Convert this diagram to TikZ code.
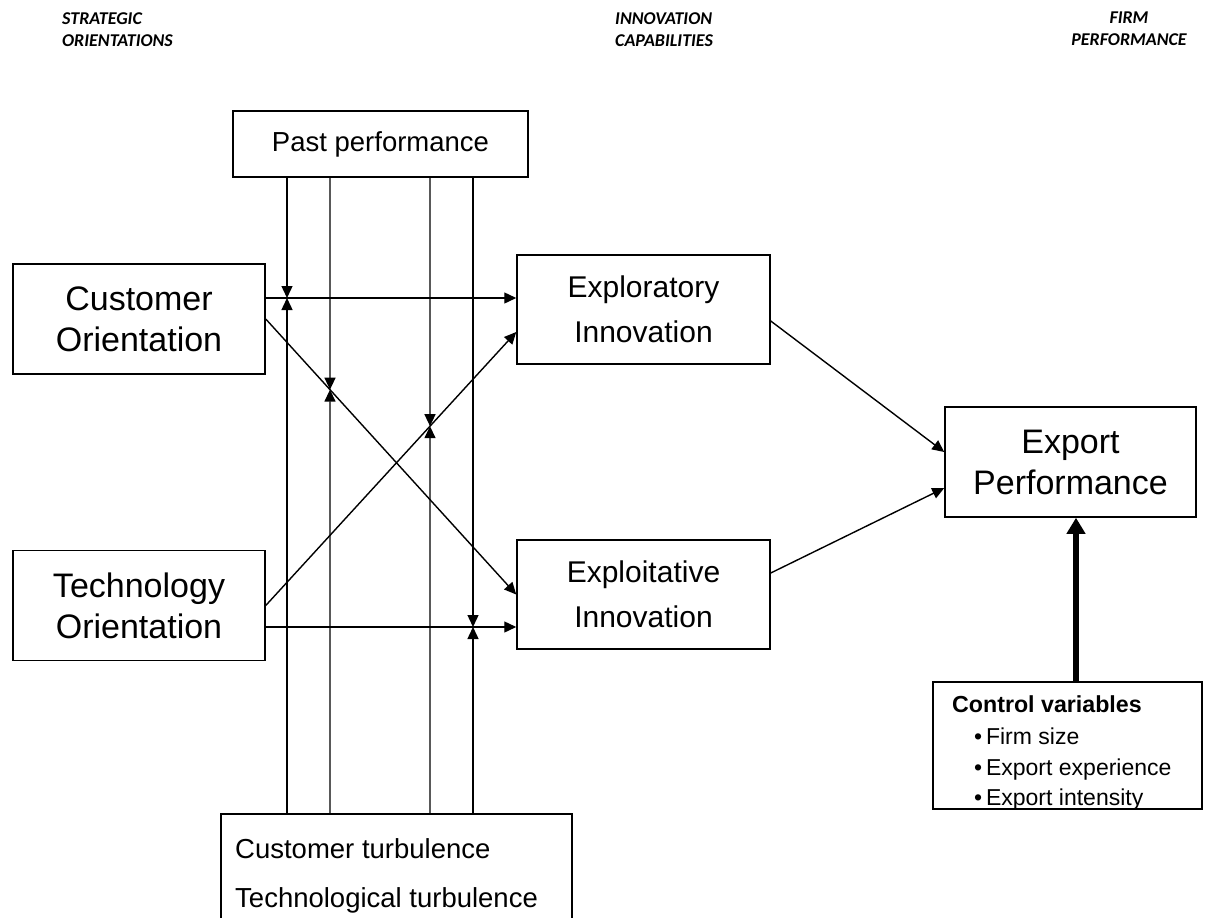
\documentclass[tikz,border=0pt]{standalone}
\usepackage{fontspec}
\setmainfont{Liberation Sans}
\newfontfamily\hdrfont{Carlito}
\usetikzlibrary{arrows.meta,intersections}

\begin{document}
\begin{tikzpicture}[x=1pt,y=-1pt,
  box/.style={draw,line width=1.5pt,inner sep=0pt,align=center},
  bigtxt/.style={font=\fontsize{34}{41}\selectfont},
  midtxt/.style={font=\fontsize{30}{45}\selectfont},
  smalltxt/.style={font=\fontsize{27.5}{33}\selectfont},
  listtxt/.style={font=\fontsize{23}{31}\selectfont},
  link/.style={line width=1.4pt,-{Triangle[length=12pt,width=11pt]}},
  heavy/.style={line width=5.5pt,-{Triangle[length=16pt,width=18pt]}},
  hdr/.style={font=\hdrfont\bfseries\itshape\fontsize{18}{22}\selectfont,inner sep=0pt},
]
\useasboundingbox (0,0) rectangle (1216,918);

% column headings
\node[hdr,align=left,anchor=north west] (h1) at (62,12) {STRATEGIC\\ORIENTATIONS};
\node[hdr,align=left,anchor=north west] (h2) at (615,12) {INNOVATION\\CAPABILITIES};
\node[hdr,align=center,anchor=north] (h3) at (1129,12) {FIRM\\PERFORMANCE};

% boxes
\node[box,smalltxt,minimum width=295pt,minimum height=66pt] (pastp) at (380.5,144) {Past performance};
\node[box,bigtxt,minimum width=252pt,minimum height=110pt] (custo) at (139,319) {Customer\\Orientation};
\node[box,bigtxt,minimum width=252pt,minimum height=110pt] (techo) at (139,605.5) {Technology\\Orientation};
\node[box,midtxt,minimum width=253pt,minimum height=109pt] (explor) at (643.5,309.5) {Exploratory\\Innovation};
\node[box,midtxt,minimum width=253pt,minimum height=109pt] (exploi) at (643.5,594.5) {Exploitative\\Innovation};
\node[box,bigtxt,minimum width=251pt,minimum height=110pt] (expperf) at (1070.5,462) {Export\\Performance};
\node[box,minimum width=269pt,minimum height=127pt] (ctrl) at (1067.5,745.5) {};
\node[box,minimum width=351pt,minimum height=135pt,anchor=north west] (turb) at (220,813) {};

% box contents set flush left
\node[anchor=base west,inner sep=0pt,font=\bfseries\fontsize{23.2}{31}\selectfont] (ctrl0) at (952,712) {Control variables};
\node[anchor=base west,inner sep=0pt,listtxt] (ctrl1) at (974,744) {\textbullet\,Firm size};
\node[anchor=base west,inner sep=0pt,listtxt] (ctrl2) at (974,775) {\textbullet\,Export experience};
\node[anchor=base west,inner sep=0pt,listtxt] (ctrl3) at (974,805) {\textbullet\,Export intensity};
\node[anchor=base west,inner sep=0pt,smalltxt] (turb1) at (235,858) {Customer turbulence};
\node[anchor=base west,inner sep=0pt,smalltxt] (turb2) at (235,907) {Technological turbulence};

% main paths
\draw[link] ([yshift=21pt]custo.east) coordinate (cA) -- (explor.west |- cA);
\draw[link,name path=diagC] (custo.east) -- (exploi.west);
\draw[link,name path=diagT] (techo.east) -- ([yshift=-22.5pt]explor.west);
\draw[link] ([yshift=-21.5pt]techo.east) coordinate (tA) -- (exploi.west |- tA);
\draw[link] ([yshift=-11.5pt]explor.east) -- ([yshift=10pt]expperf.west);
\draw[link] ([yshift=21.5pt]exploi.east) -- ([yshift=-26pt]expperf.west);
\coordinate (hx) at (1076,0);
\draw[heavy] (ctrl.north -| hx) -- (expperf.south -| hx);

% moderating lines
\coordinate (m1) at (287,0);
\coordinate (m2) at (330,0);
\coordinate (m3) at (430,0);
\coordinate (m4) at (473,0);
\path[name path=v2] (m2 |- pastp.south) -- (m2 |- turb.north);
\path[name path=v3] (m3 |- pastp.south) -- (m3 |- turb.north);
\path[name intersections={of=diagC and v2,by=x2}];
\path[name intersections={of=diagT and v3,by=x3}];
\coordinate (x1) at (m1 |- cA);
\coordinate (x4) at (m4 |- tA);
\foreach \i in {1,2,3,4}{
  \draw[link] (m\i |- pastp.south) -- (x\i);
  \draw[link] (m\i |- turb.north) -- (x\i);
}
\end{tikzpicture}
\end{document}
